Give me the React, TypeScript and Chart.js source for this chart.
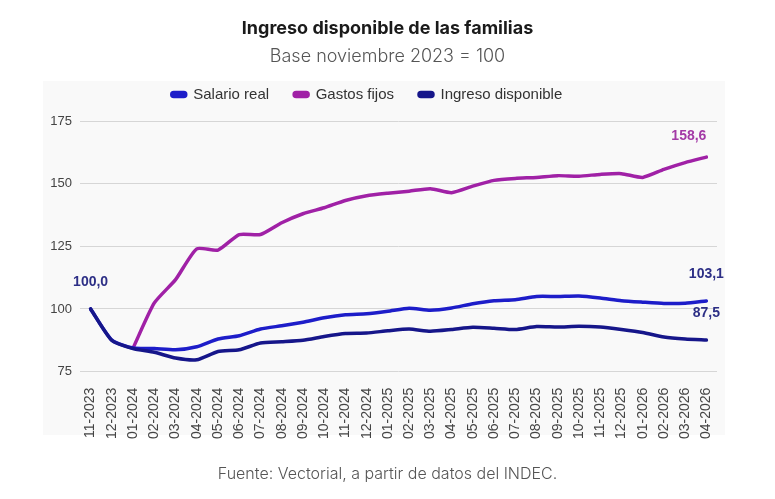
import React, { useEffect, useRef } from 'react'
import { Chart, registerables } from 'chart.js'

Chart.register(...registerables)

const months = [
  '11-2023', '12-2023', '01-2024', '02-2024', '03-2024', '04-2024', '05-2024', '06-2024',
  '07-2024', '08-2024', '09-2024', '10-2024', '11-2024', '12-2024', '01-2025', '02-2025',
  '03-2025', '04-2025', '05-2025', '06-2025', '07-2025', '08-2025', '09-2025', '10-2025',
  '11-2025', '12-2025', '01-2026', '02-2026', '03-2026', '04-2026',
]

const salarioReal = [
  100, 87.6, 84.4, 84.2, 83.7, 84.9, 88, 89.3, 92, 93.3, 94.7, 96.5, 97.7, 98.1, 99.1,
  100.3, 99.5, 100.4, 102.1, 103.3, 103.7, 105, 105, 105.2, 104.4, 103.3, 102.7, 102.2, 102.3, 103.2,
]

const gastosFijos = [
  null, null, 84.4, 102.4, 111.7, 124, 123.5, 129.7, 129.7, 134.4, 138, 140.4, 143.3, 145.2, 146.2,
  147, 148, 146.4, 149, 151.3, 152.1, 152.5, 153.2, 153, 153.7, 154, 152.5, 155.7, 158.4, 160.6,
]

const ingresoDisponible = [
  100, 87.4, 84.2, 82.7, 80.4, 79.7, 83, 83.7, 86.4, 86.9, 87.5, 89, 90.2, 90.4, 91.3,
  92, 91.1, 91.8, 92.7, 92.3, 91.8, 93, 92.8, 93.1, 92.8, 91.8, 90.6, 88.8, 88, 87.6,
]

const seriesNames = ['Salario real', 'Gastos fijos', 'Ingreso disponible']
const seriesColors = ['#1d1dc9', '#a021a6', '#16168a']
const yTicks = [75, 100, 125, 150, 175]

// texts shown next to the first / last points
const startLabel = '100,0'
const endLabels = ['103,1', '158,6', '87,5']

const chartFont = '"Liberation Sans", Arial, sans-serif'

const panelBg = {
  id: 'panelBg',
  beforeDraw(chart: any) {
    const ctx = chart.ctx
    ctx.save()
    ctx.fillStyle = '#f9f9f9'
    ctx.fillRect(43, 81, 682, 354)
    ctx.restore()
  },
}

// extra room under the legend, and nudge it a bit to the left
const legendSpace = {
  id: 'legendSpace',
  beforeInit(chart: any) {
    const fit = chart.legend.fit
    chart.legend.fit = function () {
      fit.call(this)
      this.height += 9
    }
  },
  afterLayout(chart: any) {
    chart.legend.left -= 13
    chart.legend.right -= 13
  },
}

const valueLabels = {
  id: 'valueLabels',
  afterDatasetsDraw(chart: any) {
    const ctx = chart.ctx
    ctx.save()
    ctx.font = `bold 14px ${chartFont}`
    ctx.textBaseline = 'middle'

    const first = chart.getDatasetMeta(2).data[0]
    ctx.fillStyle = '#2d2f86'
    ctx.textAlign = 'center'
    ctx.fillText(startLabel, first.x, first.y - 27)

    endLabels.forEach((txt, i) => {
      const meta = chart.getDatasetMeta(i)
      const pt = meta.data[meta.data.length - 1]
      if (i === 1) {
        ctx.fillStyle = '#a33aa6'
        ctx.textAlign = 'right'
        ctx.fillText(txt, pt.x, pt.y - 21)
      } else {
        ctx.fillStyle = '#2d2f86'
        ctx.textAlign = 'center'
        ctx.fillText(txt, pt.x, pt.y - 27)
      }
    })
    ctx.restore()
  },
}

const IngresoChart = () => {
  const canvasRef = useRef<HTMLCanvasElement>(null)

  useEffect(() => {
    if (!canvasRef.current) return
    const values = [salarioReal, gastosFijos, ingresoDisponible]
    const drawOrder = [1, 2, 0]
    const chart = new Chart(canvasRef.current, {
      type: 'line',
      data: {
        labels: months,
        datasets: values.map((d, i) => ({
          label: seriesNames[i],
          data: d,
          borderColor: seriesColors[i],
          backgroundColor: seriesColors[i],
          borderWidth: 3.5,
          pointRadius: 0,
          tension: 0.2,
          borderCapStyle: 'round',
          borderJoinStyle: 'round',
          order: drawOrder[i],
        })),
      },
      options: {
        animation: false,
        responsive: true,
        maintainAspectRatio: false,
        layout: { padding: { left: 43, right: 58, top: 62, bottom: 52 } },
        plugins: {
          tooltip: { enabled: false },
          legend: {
            position: 'top',
            labels: {
              boxWidth: 14,
              boxHeight: 4,
              useBorderRadius: true,
              borderRadius: 2,
              padding: 25,
              color: '#333',
              font: { family: chartFont, size: 15 },
              sort: (a: any, b: any) => a.datasetIndex - b.datasetIndex,
            },
          },
        },
        scales: {
          x: {
            offset: true,
            grid: { display: false },
            border: { display: false },
            ticks: {
              autoSkip: false,
              minRotation: 90,
              maxRotation: 90,
              padding: 8,
              color: '#444',
              font: { family: chartFont, size: 14 },
            },
          },
          y: {
            min: 75,
            max: 175,
            afterFit: (scale: any) => { scale.width = 37 },
            afterBuildTicks: (scale: any) => { scale.ticks = yTicks.map(v => ({ value: v })) },
            grid: { color: '#d6d6d6', drawTicks: false },
            border: { display: false },
            ticks: {
              padding: 8,
              color: '#444',
              font: { family: chartFont, size: 13 },
            },
          },
        },
      } as any,
      plugins: [panelBg, legendSpace, valueLabels],
    })
    return () => chart.destroy()
  }, [])

  return <canvas ref={canvasRef} />
}

export default function App() {
  return (
    <div style={{ position: 'fixed', left: 0, top: 0, width: 775, height: 499, background: '#fff', overflow: 'hidden' }}>
      <div style={{ position: 'absolute', left: 0, top: 0, width: 775, height: 499 }}>
        <IngresoChart />
      </div>
      <div style={{ position: 'absolute', left: 0, top: 17, width: 775, textAlign: 'center', fontFamily: 'Inter, sans-serif', fontWeight: 700, fontSize: 18, lineHeight: '22px', color: '#1a1a1a' }}>
        Ingreso disponible de las familias
      </div>
      <div style={{ position: 'absolute', left: 0, top: 45, width: 775, textAlign: 'center', fontFamily: 'Inter, sans-serif', fontWeight: 300, fontSize: 18, lineHeight: '22px', color: '#555' }}>
        Base noviembre 2023 = 100
      </div>
      <div style={{ position: 'absolute', left: 0, top: 463, width: 775, textAlign: 'center', fontFamily: 'Inter, sans-serif', fontWeight: 300, fontSize: 16, lineHeight: '20px', color: '#555' }}>
        Fuente: Vectorial, a partir de datos del INDEC.
      </div>
    </div>
  )
}
